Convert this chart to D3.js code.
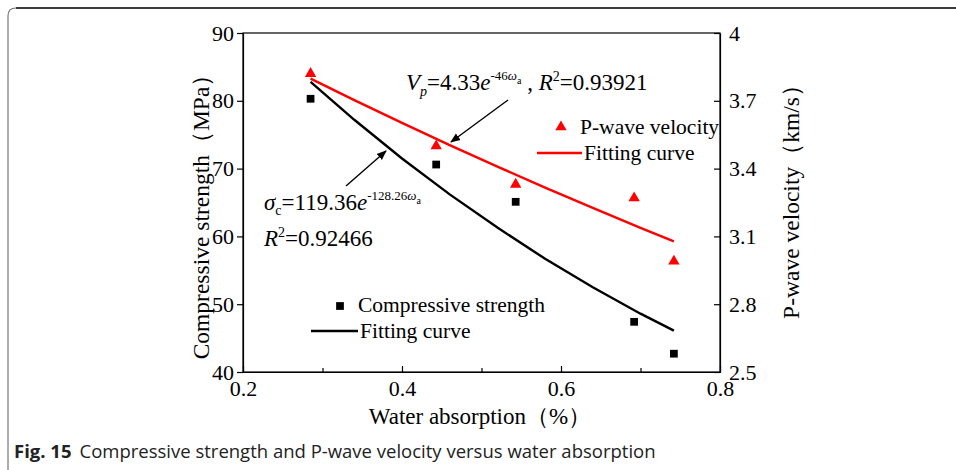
<!DOCTYPE html>
<html><head><meta charset="utf-8">
<script src="https://cdn.jsdelivr.net/npm/d3@7"></script>
<style>body{margin:0;background:#fff}svg{display:block}</style>
</head><body>
<svg id="chart" width="956" height="470"></svg>
<script>
// ---- data ----
const waterAbsorption = [0.285, 0.443, 0.543, 0.692, 0.742];
const compressiveStrength = [80.3, 70.6, 65.1, 47.4, 42.7];
const pWaveVelocity = [3.82, 3.50, 3.33, 3.27, 2.99];
const fitX = [0.285, 0.34, 0.40, 0.46, 0.52, 0.58, 0.64, 0.70, 0.742];
const fitStrength = [82.8, 77.2, 71.5, 66.2, 61.3, 56.7, 52.5, 48.6, 46.1];
const fitVelocity = [3.798, 3.703, 3.602, 3.504, 3.409, 3.316, 3.226, 3.138, 3.078];
const xTicks = [0.2, 0.4, 0.6, 0.8];
const xMinorTicks = [0.3, 0.5, 0.7];
const leftTicks = [40, 50, 60, 70, 80, 90];
const rightTicks = [2.5, 2.8, 3.1, 3.4, 3.7, 4.0];

const svg = d3.select("#chart");
const L = 243, R = 720, T = 33, B = 372;
const serif = "'Liberation Serif','Times New Roman',serif";

const x = d3.scaleLinear().domain([0.2, 0.8]).range([L, R]);
const yL = d3.scaleLinear().domain([40, 90]).range([B, T]);
const yR = d3.scaleLinear().domain([2.5, 4.0]).range([B, T]);

// outer rounded frame
svg.append("path")
  .attr("d", "M8,475 L8,16 Q8,8 16,8 L960,8")
  .attr("fill", "none").attr("stroke", "#777").attr("stroke-width", 1.2);
svg.append("line").attr("x1", 16).attr("x2", 956).attr("y1", 8).attr("y2", 8)
  .attr("stroke", "#111").attr("stroke-width", 1.6);

// plot frame
svg.append("rect").attr("x", L).attr("y", T).attr("width", R - L).attr("height", B - T)
  .attr("fill", "none").attr("stroke", "#000").attr("stroke-width", 1.2);

function styleAxis(g) {
  g.select(".domain").attr("stroke", "#000").attr("stroke-width", 1.2);
  g.selectAll(".tick line").attr("stroke", "#000").attr("stroke-width", 1.2);
  g.selectAll("text").attr("font-family", serif).attr("font-size", 22).attr("fill", "#000");
}

svg.append("g").attr("transform", `translate(0,${B})`)
  .call(d3.axisBottom(x).tickValues(xTicks).tickFormat(d3.format(".1f")).tickSize(-6).tickSizeOuter(0).tickPadding(8))
  .call(styleAxis);
svg.append("g").attr("transform", `translate(0,${B})`)
  .call(d3.axisBottom(x).tickValues(xMinorTicks).tickFormat("").tickSize(-4).tickSizeOuter(0))
  .call(styleAxis);
svg.append("g").attr("transform", `translate(${L},0)`)
  .call(d3.axisLeft(yL).tickValues(leftTicks).tickSize(6).tickSizeOuter(0).tickPadding(3))
  .call(styleAxis);
svg.append("g").attr("transform", `translate(${R},0)`)
  .call(d3.axisRight(yR).tickValues(rightTicks).tickFormat(d3.format("")).tickSize(-6).tickSizeOuter(0).tickPadding(9))
  .call(styleAxis);

// axis titles
svg.append("text").attr("transform", "translate(209,211) rotate(-90)")
  .attr("text-anchor", "middle").attr("font-family", serif).attr("font-size", 23.5)
  .text("Compressive strength（MPa）");
svg.append("text").attr("transform", "translate(799,196) rotate(-90)")
  .attr("text-anchor", "middle").attr("font-family", serif).attr("font-size", 23.5)
  .text("P-wave velocity（km/s）");
svg.append("text").attr("x", 480).attr("y", 424)
  .attr("text-anchor", "middle").attr("font-family", serif).attr("font-size", 23)
  .text("Water absorption（%）");

// fitting curves
const lineS = d3.line().x((d, i) => x(fitX[i])).y(d => yL(d));
const lineV = d3.line().x((d, i) => x(fitX[i])).y(d => yR(d));
svg.append("path").attr("d", lineS(fitStrength)).attr("fill", "none").attr("stroke", "#000").attr("stroke-width", 2.4);
svg.append("path").attr("d", lineV(fitVelocity)).attr("fill", "none").attr("stroke", "#f00").attr("stroke-width", 2.4);

// markers
const sq = d3.symbol().type(d3.symbolSquare).size(60);
const tri = d3.symbol().type(d3.symbolTriangle).size(56);
svg.selectAll(".sq").data(compressiveStrength).join("path").attr("class", "sq")
  .attr("d", sq).attr("fill", "#000")
  .attr("transform", (d, i) => `translate(${x(waterAbsorption[i])},${yL(d)})`);
svg.selectAll(".tri").data(pWaveVelocity).join("path").attr("class", "tri")
  .attr("d", tri).attr("fill", "#f00")
  .attr("transform", (d, i) => `translate(${x(waterAbsorption[i])},${yR(d)})`);

// legends
svg.append("path").attr("d", tri).attr("fill", "#f00").attr("transform", "translate(561,127)");
svg.append("text").attr("x", 580).attr("y", 134).attr("font-family", serif).attr("font-size", 21.5).text("P-wave velocity");
svg.append("line").attr("x1", 537).attr("x2", 582).attr("y1", 153).attr("y2", 153).attr("stroke", "#f00").attr("stroke-width", 2.4);
svg.append("text").attr("x", 584).attr("y", 160).attr("font-family", serif).attr("font-size", 21.5).text("Fitting curve");

svg.append("path").attr("d", sq).attr("fill", "#000").attr("transform", "translate(340,306)");
svg.append("text").attr("x", 358).attr("y", 312).attr("font-family", serif).attr("font-size", 21.5).text("Compressive strength");
svg.append("line").attr("x1", 311).attr("x2", 358).attr("y1", 331).attr("y2", 331).attr("stroke", "#000").attr("stroke-width", 2.4);
svg.append("text").attr("x", 360).attr("y", 338).attr("font-family", serif).attr("font-size", 21.5).text("Fitting curve");

// arrows
const defs = svg.append("defs");
defs.append("marker").attr("id", "ah").attr("viewBox", "0 0 10 10").attr("refX", 9).attr("refY", 5)
  .attr("markerWidth", 10).attr("markerHeight", 10).attr("markerUnits", "userSpaceOnUse").attr("orient", "auto")
  .append("path").attr("d", "M0,1 L10,5 L0,9 z").attr("fill", "#000");
svg.append("line").attr("x1", 508).attr("y1", 100).attr("x2", 451).attr("y2", 142)
  .attr("stroke", "#000").attr("stroke-width", 1.4).attr("marker-end", "url(#ah)");
svg.append("line").attr("x1", 346).attr("y1", 186).attr("x2", 386).attr("y2", 151)
  .attr("stroke", "#000").attr("stroke-width", 1.4).attr("marker-end", "url(#ah)");

// equation annotations
function eq(xp, yp, parts) {
  const t = svg.append("text").attr("x", xp).attr("y", yp).attr("font-family", serif).attr("font-size", 23);
  let cur = 0;
  parts.forEach(p => {
    const off = p.off || 0;
    const s = t.append("tspan").text(p.t).attr("font-size", p.size || 23).attr("dy", off - cur);
    if (p.i) s.attr("font-style", "italic");
    cur = off;
  });
  return t;
}
eq(406, 90, [
  {t: "V", i: 1}, {t: "p", i: 1, size: 14, off: 6}, {t: "=4.33", off: 0}, {t: "e", i: 1},
  {t: "-46", size: 13, off: -10}, {t: "ω", i: 1, size: 13, off: -10}, {t: "a", size: 10, off: -6},
  {t: " , ", off: 0}, {t: "R", i: 1}, {t: "2", size: 14, off: -9}, {t: "=0.93921", off: 0}
]);
eq(264, 210, [
  {t: "σ", i: 1}, {t: "c", size: 14, off: 5}, {t: "=119.36", off: 0}, {t: "e", i: 1},
  {t: "-128.26", size: 13, off: -10}, {t: "ω", i: 1, size: 13, off: -10}, {t: "a", size: 10, off: -6}
]);
eq(264, 246, [
  {t: "R", i: 1}, {t: "2", size: 14, off: -9}, {t: "=0.92466", off: 0}
]);

// caption
const cap = svg.append("text").attr("x", 14).attr("y", 458).attr("font-family", "'Open Sans','Noto Sans',sans-serif").attr("font-size", 18.5).attr("fill", "#222");
cap.append("tspan").attr("font-weight", "bold").text("Fig. 15");
cap.append("tspan").attr("dx", 8).text("Compressive strength and P-wave velocity versus water absorption");
</script>
</body></html>
